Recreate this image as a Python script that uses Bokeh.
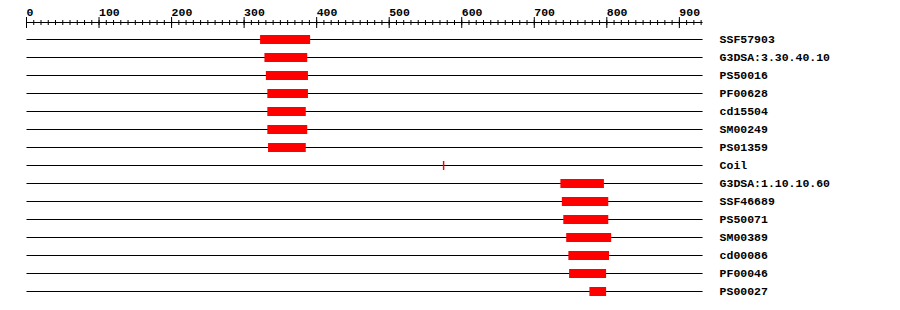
import numpy as np
from bokeh.plotting import figure
from bokeh.models import Range1d
from bokeh.embed import file_html
from bokeh.resources import INLINE
from bokeh.core.properties import value

# ---- data ----
features = ["SSF57903", "G3DSA:3.30.40.10", "PS50016", "PF00628", "cd15504",
            "SM00249", "PS01359", "Coil", "G3DSA:1.10.10.60", "SSF46689",
            "PS50071", "SM00389", "cd00086", "PF00046", "PS00027"]
starts = [322, 328, 330, 332, 332, 332, 333, 574, 736, 738, 740, 744, 747, 748, 776]
ends = [391, 387, 388, 388, 385, 387, 385, 576, 796, 802, 802, 806, 803, 799, 799]
protein_length = 932
major_ticks = [0, 100, 200, 300, 400, 500, 600, 700, 800, 900]
tick_labels = ["0", "100", "200", "300", "400", "500", "600", "700", "800", "900"]
minor_step = 10

# ---- layout constants ----
W, H = 900, 310
PX_PER_UNIT = 0.7254
X0_PX = 26.0
ROW_PX = 18.0
FIRST_ROW_PX = 39.0


def ypx(px):
    """convert a pixel row in the picture to row units"""
    return (px - FIRST_ROW_PX) / ROW_PX


FONT = value("Liberation Mono")

p = figure(width=W, height=H,
           x_range=Range1d(-X0_PX / PX_PER_UNIT, (W - X0_PX) / PX_PER_UNIT),
           y_range=Range1d(ypx(H), ypx(0)),
           x_axis_type=None, y_axis_type=None,
           output_backend="svg", toolbar_location=None, min_border=0)
p.grid.visible = False
p.outline_line_color = None
p.background_fill_color = "white"
p.border_fill_color = "white"

rows = list(range(len(features)))

# row lines
p.segment(x0=[0] * len(rows), y0=rows, x1=[protein_length] * len(rows), y1=rows,
          line_color="black", line_width=1)
# feature bars
p.hbar(y=rows, left=starts, right=ends, height=9 / ROW_PX,
       fill_color="#ff0000", line_color=None)
# feature labels
p.text(x=[protein_length] * len(rows), y=rows, text=features, x_offset=17, y_offset=0,
       text_baseline="middle", text_align="left", text_font=FONT,
       text_font_style="bold", text_font_size="11.5px", text_color="black")

# ruler
axis_y = ypx(22.0)
p.segment(x0=[0], y0=[axis_y], x1=[protein_length], y1=[axis_y],
          line_color="black", line_width=1)
minor = np.arange(0, protein_length + 1, minor_step)
p.segment(x0=minor, y0=[ypx(19.5)] * len(minor), x1=minor, y1=[ypx(24.5)] * len(minor),
          line_color="black", line_width=1)
p.segment(x0=major_ticks, y0=[ypx(16.5)] * len(major_ticks), x1=major_ticks,
          y1=[ypx(27.5)] * len(major_ticks), line_color="black", line_width=1)
p.text(x=major_ticks, y=[ypx(12)] * len(major_ticks), text=tick_labels,
       text_align="left", text_baseline="alphabetic", text_font=FONT,
       text_font_style="bold", text_font_size="11.5px", text_color="black")

open("out.html", "w").write(file_html(p, INLINE))
